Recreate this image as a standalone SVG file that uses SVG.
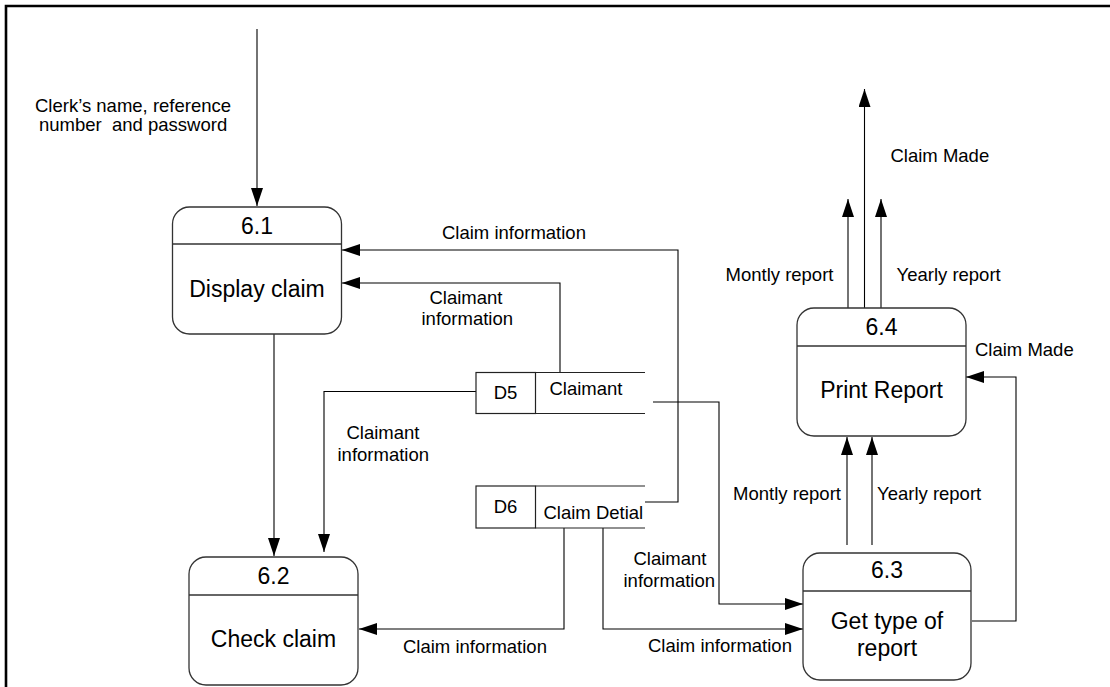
<svg xmlns="http://www.w3.org/2000/svg" width="1110" height="687" viewBox="0 0 1110 687">
  <style>
    text { font-family: "Liberation Sans", Arial, sans-serif; fill: #000; }
    .lbl { font-size: 18.5px; }
    .proc { font-size: 23px; text-anchor: middle; }
    .box { fill: #fff; stroke: #333; stroke-width: 1.3; }
    .div { stroke: #333; stroke-width: 1.3; }
    .store { fill: #fff; stroke: #222; stroke-width: 1.2; }
    .flow { fill: none; stroke: #000; stroke-width: 1.1; }
    .arr { marker-end: url(#head); }
    .frame { stroke: #000; stroke-width: 2.6; fill: none; }
  </style>
  <defs>
    <marker id="head" markerUnits="userSpaceOnUse" markerWidth="18" markerHeight="12" refX="18" refY="6" orient="auto">
      <path d="M0,0 L18,6 L0,12 z" fill="#000"/>
    </marker>
  </defs>

  <rect width="1110" height="687" fill="#fff"/>
  <!-- page frame: top and left edges -->
  <path class="frame" d="M6,687 V6 H1110"/>

  <!-- data flows -->
  <g id="connectors">
    <path class="flow arr" d="M257,29 V206"/>
    <path class="flow arr" d="M645,502 H678 V250 H342"/>
    <path class="flow arr" d="M560,372 V283 H342"/>
    <path class="flow arr" d="M274,334 V556"/>
    <path class="flow arr" d="M476,391.5 H324 V552"/>
    <path class="flow arr" d="M564,528 V629 H359"/>
    <path class="flow arr" d="M603,528 V629 H803"/>
    <path class="flow arr" d="M653,402 H719 V604 H803"/>
    <path class="flow arr" d="M847,545 V437"/>
    <path class="flow arr" d="M872,545 V437"/>
    <path class="flow arr" d="M972,621 H1016 V377 H966"/>
    <path class="flow arr" d="M848,308 V199"/>
    <path class="flow arr" d="M864.5,308 V89"/>
    <path class="flow arr" d="M881,308 V199"/>

    <text class="lbl" x="35" y="112">Clerk’s name, reference</text>
    <text class="lbl" x="39" y="131" style="white-space:pre" xml:space="preserve">number  and password</text>
    <text class="lbl" x="442" y="238.5">Claim information</text>
    <text class="lbl" x="429.5" y="303.5">Claimant</text>
    <text class="lbl" x="421.5" y="325">information</text>
    <text class="lbl" x="346.5" y="438.5">Claimant</text>
    <text class="lbl" x="337.5" y="460.5">information</text>
    <text class="lbl" x="403" y="652.5">Claim information</text>
    <text class="lbl" x="648" y="651.5">Claim information</text>
    <text class="lbl" x="633.5" y="565">Claimant</text>
    <text class="lbl" x="623.5" y="586.5">information</text>
    <text class="lbl" x="733" y="500">Montly report</text>
    <text class="lbl" x="877" y="500">Yearly report</text>
    <text class="lbl" x="725.5" y="280.5">Montly report</text>
    <text class="lbl" x="896.5" y="280.5">Yearly report</text>
    <text class="lbl" x="890.5" y="161.5">Claim Made</text>
    <text class="lbl" x="975" y="356">Claim Made</text>
  </g>

  <!-- processes -->
  <g id="p6-1">
    <rect class="box" x="172.5" y="207" width="169" height="127" rx="17"/>
    <line class="div" x1="172.5" y1="244" x2="341.5" y2="244"/>
    <text class="proc" x="257" y="233.5">6.1</text>
    <text class="proc" x="257" y="297">Display claim</text>
  </g>

  <g id="p6-2">
    <rect class="box" x="189" y="557" width="169" height="128" rx="17"/>
    <line class="div" x1="189" y1="595" x2="358" y2="595"/>
    <text class="proc" x="273.5" y="584">6.2</text>
    <text class="proc" x="273.5" y="647">Check claim</text>
  </g>

  <g id="p6-3">
    <rect class="box" x="803" y="553" width="168" height="127" rx="17"/>
    <line class="div" x1="803" y1="591" x2="971" y2="591"/>
    <text class="proc" x="887" y="577.5">6.3</text>
    <text class="proc" x="887" y="628.5">Get type of</text>
    <text class="proc" x="887" y="656">report</text>
  </g>

  <g id="p6-4">
    <rect class="box" x="797" y="308" width="169" height="128" rx="17"/>
    <line class="div" x1="797" y1="346" x2="966" y2="346"/>
    <text class="proc" x="881.5" y="335">6.4</text>
    <text class="proc" x="881.5" y="397.5">Print Report</text>
  </g>

  <!-- data stores -->
  <g id="d5">
    <rect class="store" x="476" y="372.5" width="59.5" height="41"/>
    <path class="store" d="M535.5,372.5 H645 M535.5,413.5 H645"/>
    <text class="lbl" x="505.5" y="398.5" text-anchor="middle">D5</text>
    <text class="lbl" x="549.5" y="395">Claimant</text>
  </g>

  <g id="d6">
    <rect class="store" x="476" y="486" width="59.5" height="42"/>
    <path class="store" d="M535.5,486 H645 M535.5,528 H645"/>
    <text class="lbl" x="505.5" y="512.5" text-anchor="middle">D6</text>
    <text class="lbl" x="543.5" y="518.5">Claim Detial</text>
  </g>
</svg>
